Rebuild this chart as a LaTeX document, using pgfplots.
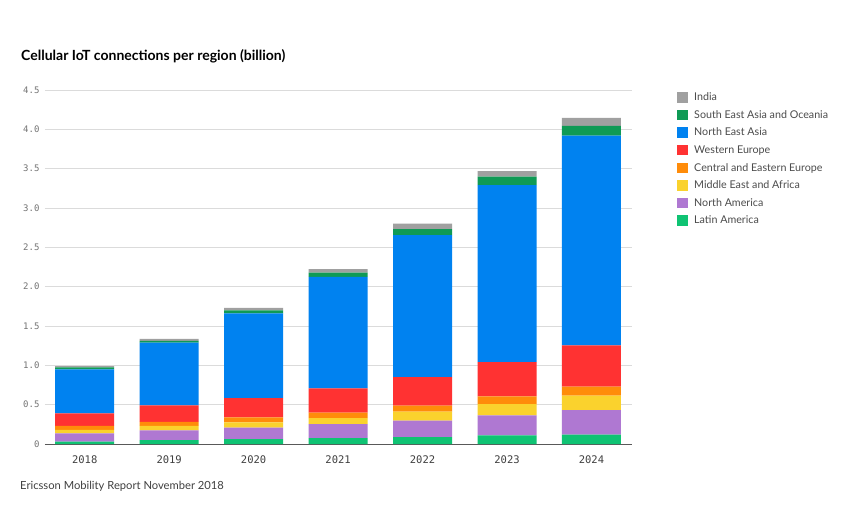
\documentclass[border=0pt]{standalone}
\usepackage{pgfplots}
\pgfplotsset{compat=1.18}
\usepackage{pgfplotstable}
\usetikzlibrary{backgrounds}
\usepackage{fontspec}
\setmainfont{Lato}
\newfontfamily\monofont{DejaVu Sans Mono}
\definecolor{cIN}{HTML}{A0A0A0}
\definecolor{cSEA}{HTML}{0F9A55}
\definecolor{cNEA}{HTML}{0082F0}
\definecolor{cWE}{HTML}{FF3232}
\definecolor{cCEE}{HTML}{FF8C0A}
\definecolor{cMEA}{HTML}{FAD22D}
\definecolor{cNA}{HTML}{AF78D2}
\definecolor{cLA}{HTML}{0FC373}
\pgfplotstableread{
x LA NA MEA CEE WE NEA SEA IN
0 0.030 0.105 0.043 0.051 0.160 0.560 0.025 0.015
1 0.050 0.124 0.055 0.051 0.210 0.800 0.020 0.025
2 0.063 0.144 0.068 0.064 0.245 1.076 0.040 0.030
3 0.076 0.178 0.076 0.068 0.309 1.419 0.051 0.047
4 0.089 0.207 0.114 0.077 0.364 1.805 0.074 0.070
5 0.110 0.254 0.144 0.098 0.436 2.248 0.110 0.070
6 0.119 0.313 0.182 0.114 0.526 2.666 0.125 0.100
}\datatable
\begin{document}
\begin{tikzpicture}[x=1pt,y=1pt]
\begin{axis}[
  scale only axis, width=587pt, height=354pt,
  xmin=-0.47, xmax=6.48, ymin=0, ymax=4.5,
  ybar stacked, bar width=59pt,
  axis lines=left,
  x axis line style={draw=black!65, line width=0.8pt, -},
  y axis line style={draw=none},
  major tick length=0pt,
  xtick={0,...,6}, xticklabels={2018,2019,2020,2021,2022,2023,2024},
  ytick={0,0.5,...,4.5}, yticklabels={0,0.5,1.0,1.5,2.0,2.5,3.0,3.5,4.0,4.5},
  ymajorgrids, grid style={draw=black!14, line width=0.6pt},
  xticklabel style={font=\monofont\fontsize{10.5}{12}\selectfont, text=black!75, yshift=-8pt},
  yticklabel style={font=\monofont\fontsize{9}{11}\selectfont, text=black!55, xshift=-2pt},
  /pgf/number format/assume math mode=true,
  every axis plot/.append style={draw=none},
  legend style={at={(1.0767,0.9944)}, anchor=north west, draw=none, fill=none, inner sep=0pt,
    font=\fontsize{10.7}{12}\selectfont, text=black!70, row sep=6.1pt,
    nodes={inner sep=0pt, text height=8pt, text depth=3pt, anchor=west}},
  legend cell align=left,
  reverse legend,
  legend image code/.code={\fill[#1] (0pt,-4.5pt) rectangle (11pt,6pt); \path (17pt,0pt);},
]
\addplot[fill=cLA] table[x=x,y=LA]{\datatable};
\addplot[fill=cNA] table[x=x,y=NA]{\datatable};
\addplot[fill=cMEA] table[x=x,y=MEA]{\datatable};
\addplot[fill=cCEE] table[x=x,y=CEE]{\datatable};
\addplot[fill=cWE] table[x=x,y=WE]{\datatable};
\addplot[fill=cNEA] table[x=x,y=NEA]{\datatable};
\addplot[fill=cSEA] table[x=x,y=SEA]{\datatable};
\addplot[fill=cIN] table[x=x,y=IN]{\datatable};
\legend{Latin America,North America,Middle East and Africa,Central and Eastern Europe,Western Europe,North East Asia,South East Asia and Oceania,India}
\coordinate (O) at (rel axis cs:0,0);
\end{axis}
\begin{scope}[shift={(O)}]
\node[anchor=base west, inner sep=0pt, font=\fontsize{14}{17}\selectfont\bfseries] at (-24,383) {Cellular IoT connections per region (billion)};
\node[anchor=base west, inner sep=0pt, text=black!75, font=\fontsize{11.2}{14}\selectfont] at (-25,-45) {Ericsson Mobility Report November 2018};
\end{scope}
\pgfresetboundingbox
\path[use as bounding box, shift={(O)}] (-45,-65) rectangle (809,444);
\begin{scope}[on background layer]
\fill[white, shift={(O)}] (-45,-65) rectangle (809,444);
\end{scope}
\end{tikzpicture}
\end{document}
